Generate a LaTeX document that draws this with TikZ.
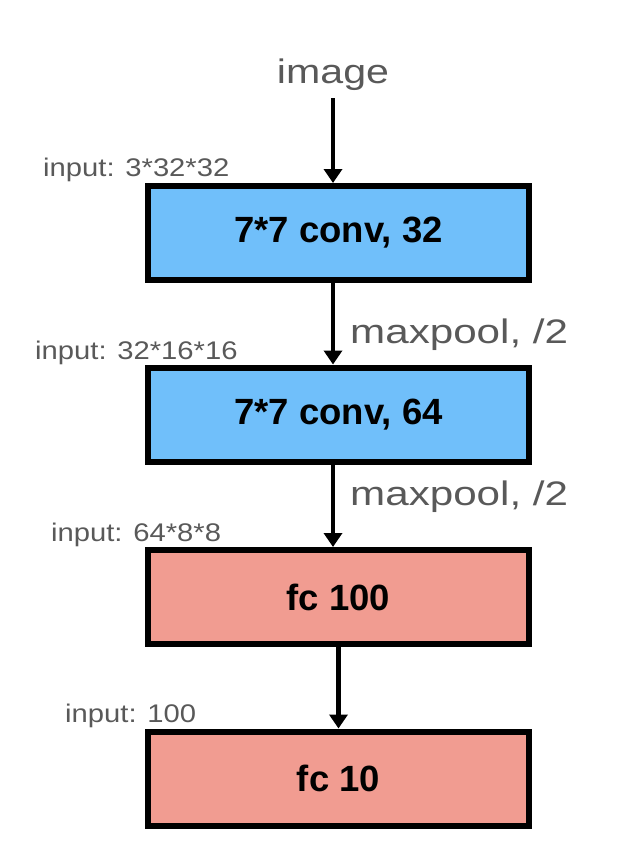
\documentclass[tikz,border=0pt]{standalone}
\usepackage{fontspec}
\setmainfont{Liberation Sans}
\usetikzlibrary{arrows.meta}
\definecolor{convblue}{RGB}{112,191,250}
\definecolor{fcpink}{RGB}{241,156,145}
\definecolor{labelgray}{RGB}{89,89,89}
\newcommand\hstretch[2]{\scalebox{#1}[1]{#2}}
\tikzset{
  layerbox/.style={draw=black, line width=6pt, minimum width=381pt, minimum height=94pt, inner sep=0pt},
  convbox/.style={layerbox, fill=convblue},
  fcbox/.style={layerbox, fill=fcpink},
  boxtext/.style={font=\fontsize{36.5}{42}\selectfont\bfseries, text=black},
  biglabel/.style={font=\fontsize{34}{40}\selectfont, text=labelgray, inner sep=0pt, anchor=base},
  poollabel/.style={font=\fontsize{34}{40}\selectfont, text=labelgray, inner sep=0pt, anchor=base west},
  inlabel/.style={font=\fontsize{25.5}{30}\selectfont, text=labelgray, inner sep=0pt, anchor=base west},
  arr/.style={draw=black, line width=4.5pt, -{Triangle[width=18pt,length=14pt]}}
}
\begin{document}
\begin{tikzpicture}[x=1pt,y=-1pt]
\useasboundingbox (0,0) rectangle (624,860);
\node[biglabel] (image) at (333,83) {\hstretch{1.21}{image}};
\node[convbox] (b1) at (338.5,233) {};
\node[boxtext] (t1) at (b1.center) {7*7 conv, 32};
\node[convbox] (b2) at (338.5,414.5) {};
\node[boxtext] (t2) at (b2.center) {7*7 conv, 64};
\node[fcbox] (b3) at (338.5,597) {};
\node[boxtext] (t3) at (b3.center) {fc 100};
\node[fcbox] (b4) at (338.5,778.5) {};
\node[boxtext] (t4) at (b4.center) {fc 10};
\node[inlabel] (i1) at (43,176) {\hstretch{1.145}{input: 3*32*32}};
\node[inlabel] (i2) at (35,359) {\hstretch{1.145}{input: 32*16*16}};
\node[inlabel] (i3) at (51,541) {\hstretch{1.145}{input: 64*8*8}};
\node[inlabel] (i4) at (65,722) {\hstretch{1.145}{input: 100}};
\node[poollabel] (p1) at (350,343) {\hstretch{1.24}{maxpool, /2}};
\node[poollabel] (p2) at (350,505) {\hstretch{1.24}{maxpool, /2}};
\coordinate (s0) at ([yshift=-15pt]image.base);
\draw[arr] (s0) -- (s0 |- b1.north);
\draw[arr] (s0 |- b1.south) -- (s0 |- b2.north);
\draw[arr] (s0 |- b2.south) -- (s0 |- b3.north);
\draw[arr] (b3.south) -- (b4.north);
\end{tikzpicture}
\end{document}
